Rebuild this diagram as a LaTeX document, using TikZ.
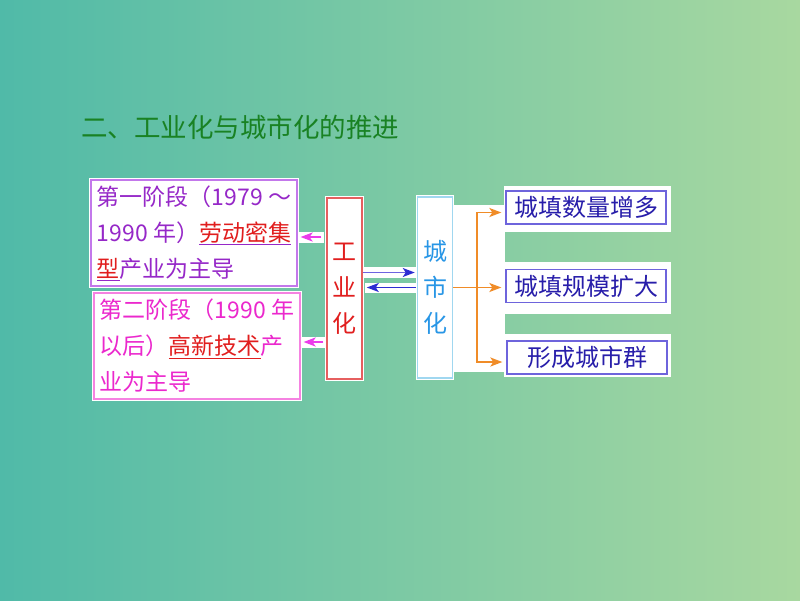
\documentclass[tikz,border=0pt]{standalone}
\usepackage{fontspec}
\setmainfont{Noto Sans CJK SC}
\usetikzlibrary{arrows.meta}
\definecolor{bgleft}{RGB}{80,186,168}
\definecolor{bgright}{RGB}{168,216,160}
\definecolor{titlegreen}{RGB}{25,130,35}
\definecolor{stageone}{RGB}{150,40,200}
\definecolor{stageoneline}{RGB}{195,120,235}
\definecolor{stagetwo}{RGB}{235,40,205}
\definecolor{stagetwoline}{RGB}{245,130,225}
\definecolor{indred}{RGB}{225,30,30}
\definecolor{indline}{RGB}{230,95,95}
\definecolor{urbblue}{RGB}{40,150,230}
\definecolor{urbline}{RGB}{160,215,240}
\definecolor{resblue}{RGB}{40,30,170}
\definecolor{resline}{RGB}{110,100,220}
\definecolor{arrpink}{RGB}{235,60,235}
\definecolor{arrorange}{RGB}{240,140,40}
\definecolor{arrviolet}{RGB}{110,100,225}
\definecolor{arrblue}{RGB}{45,45,210}
\begin{document}
\begin{tikzpicture}[x=1pt,y=-1pt,
	stagebox/.style={draw=#1,fill=white,line width=1.2pt,preaction={draw=white,line width=4pt},
		minimum width=206pt,minimum height=106pt,inner sep=0pt,align=left,font=\fontsize{23}{36}\selectfont},
	colbox/.style={draw=#1,fill=white,line width=1.5pt,preaction={draw=white,line width=3.5pt},
		minimum width=35pt,minimum height=181pt,inner sep=0pt,align=center,font=\fontsize{24}{36}\selectfont},
	resbox/.style={draw=resline,fill=white,line width=1.3pt,minimum width=160pt,minimum height=33pt,
		inner sep=0pt,text=resblue,font=\fontsize{24}{28}\selectfont},
	arrowtip/.style={-{Stealth[length=12pt,width=9pt,inset=3pt]},line width=1.8pt}]
	\useasboundingbox (0,0) rectangle (800,600);
	\shade[left color=bgleft,right color=bgright] (0,0) rectangle (800,600);
	% white strips behind the arrows and the right column
	\fill[white] (452,205) rectangle (505,372);
	\fill[white] (504,186) rectangle (671,232);
	\fill[white] (504,262) rectangle (671,314);
	\fill[white] (504,334) rectangle (671,377);
	\fill[white] (299,232) rectangle (324,243);
	\fill[white] (299,337) rectangle (326,348);
	\fill[white] (362,267) rectangle (416,278);
	\fill[white] (365,283) rectangle (416,293);

	\node[anchor=west,inner sep=0pt,text=titlegreen,font=\fontsize{26.5}{30}\selectfont] (title) at (81,127) {二、工业化与城市化的推进};

	\node[stagebox=stageoneline,text=stageone] (stage1) at (194,233) {第一阶段（1979 ～\\1990 年）\underline{\textcolor{indred}{劳动密集}}\\\underline{\textcolor{indred}{型}}产业为主导};
	\node[stagebox=stagetwoline,text=stagetwo] (stage2) at (197,346) {第二阶段（1990 年\\以后）\textcolor{indred}{\underline{高新技术}}产\\业为主导};
	\node[colbox=indline,text=indred] (ind) at (344.5,288.5) {工\\业\\化};
	\node[colbox=urbline,text=urbblue] (urb) at (435,287.5) {城\\市\\化};
	\node[resbox] (more) at (586,207.5) {城填数量增多};
	\node[resbox] (bigger) at (586,286) {城填规模扩大};
	\node[resbox] (cluster) at (587,357.5) {形成城市群};

	\coordinate (p1) at ([yshift=-4pt]stage1.east);
	\coordinate (p2) at ([yshift=4pt]stage2.east);
	\draw[arrowtip,arrpink,shorten <=5pt,shorten >=3pt] (p1 -| ind.west) -- (p1);
	\draw[arrowtip,arrpink,shorten <=3pt,shorten >=3pt] (p2 -| ind.west) -- (p2);

	\coordinate (u1) at ([yshift=16pt]ind.east);
	\draw[-{Stealth[length=12pt,width=9pt,inset=3pt,color=arrblue]},line width=1.8pt,arrviolet,shorten >=2pt] (u1) -- (u1 -| urb.west);
	\draw[arrowtip,arrblue,shorten <=1pt,shorten >=4pt] (urb.west) -- (urb.west -| ind.east);

	\coordinate (fork) at ([xshift=24pt]urb.east);
	\draw[arrorange,line width=1.8pt] (urb.east) -- (fork);
	\draw[arrowtip,arrorange,shorten >=4pt] (fork) |- ([yshift=-5pt]more.west);
	\draw[arrowtip,arrorange,shorten >=4pt] (fork) -- (fork -| bigger.west);
	\draw[arrowtip,arrorange,shorten >=4pt] (fork) |- ([yshift=-4.5pt]cluster.west);
\end{tikzpicture}
\end{document}
